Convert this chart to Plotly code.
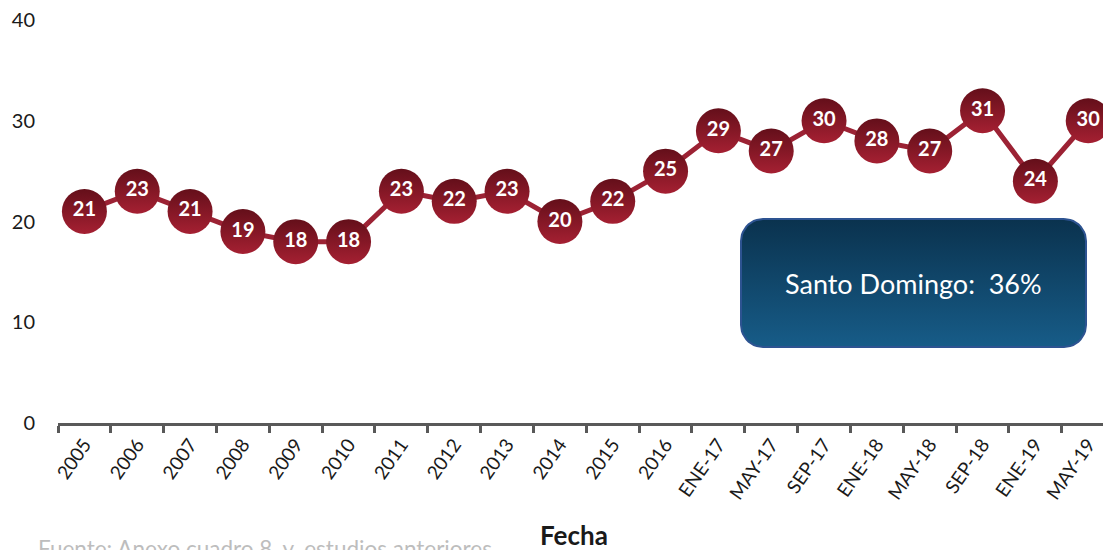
import numpy as np
import plotly.graph_objects as go

categories = ["2005", "2006", "2007", "2008", "2009", "2010", "2011", "2012", "2013",
              "2014", "2015", "2016", "ENE-17", "MAY-17", "SEP-17", "ENE-18", "MAY-18",
              "SEP-18", "ENE-19", "MAY-19"]
values = [21, 23, 21, 19, 18, 18, 23, 22, 23, 20, 22, 25, 29, 27, 30, 28, 27, 31, 24, 30]
y_ticks = [0, 10, 20, 30, 40]
box_text = "Santo Domingo:  36%"
x_title = "Fecha"
source_text = "Fuente: Anexo cuadro 8, y, estudios anteriores"

W, H = 1103, 550
L, R, T, B = 58, 0, 20, 127
PW, PH = W - L - R, H - T - B
FONT = "Lato"


def px2paper_x(p):
    return (p - L) / PW


def px2paper_y(p):
    return (H - B - p) / PH


fig = go.Figure()

fig.add_trace(go.Scatter(
    x=categories, y=values, mode="lines+markers+text",
    line=dict(color="#9c2234", width=5),
    marker=dict(size=45, color="#640f1a",
                gradient=dict(type="vertical", color="#a52032"),
                line=dict(width=0)),
    text=[str(v) for v in values], textposition="middle center",
    textfont=dict(family=FONT, size=20, color="white", weight="bold"),
    cliponaxis=False, showlegend=False, hoverinfo="skip",
))

# rounded box in pixel coordinates (x2/y2 map to pixels)
bx0, bx1, by0, by1, rad = 741, 1086, 219, 347, 22
px, py = [], []
for cx, cy, a0 in [(bx1 - rad, by0 + rad, -90), (bx1 - rad, by1 - rad, 0),
                   (bx0 + rad, by1 - rad, 90), (bx0 + rad, by0 + rad, 180)]:
    ang = np.radians(np.linspace(a0, a0 + 90, 12))
    px += list(cx + rad * np.cos(ang))
    py += list(cy + rad * np.sin(ang))
px.append(px[0]); py.append(py[0])
fig.add_trace(go.Scatter(
    x=px, y=py, xaxis="x2", yaxis="y2", mode="lines", fill="toself",
    line=dict(color="#2d5391", width=2),
    fillgradient=dict(type="vertical", start=by0, stop=by1,
                      colorscale=[[0, "#0a324e"], [1, "#175c88"]]),
    showlegend=False, hoverinfo="skip",
))

fig.update_layout(
    width=W, height=H,
    margin=dict(l=L, r=R, t=T, b=B, autoexpand=False),
    paper_bgcolor="white", plot_bgcolor="rgba(0,0,0,0)",
    font=dict(family=FONT, color="#1a1a1a"),
    xaxis=dict(type="category", range=[-0.5, 19.28], tickson="boundaries",
               showline=True, linecolor="#595959", linewidth=3,
               ticks="outside", ticklen=7, tickwidth=3, tickcolor="#595959",
               tickangle=-55, tickfont=dict(size=19, color="#1a1a1a"),
               showgrid=False, zeroline=False, automargin=False),
    yaxis=dict(range=[0, 40], tickvals=y_ticks, showgrid=False, zeroline=False,
               showline=False, ticks="", tickfont=dict(size=20, color="#1a1a1a"),
               ticklabelstandoff=22, automargin=False),
    xaxis2=dict(overlaying="x", range=[L, W - R], visible=False, fixedrange=True),
    yaxis2=dict(overlaying="y", range=[H - B, T], visible=False, fixedrange=True),
    annotations=[
        dict(text=box_text, xref="x2", yref="y2", x=(bx0 + bx1) / 2, y=(by0 + by1) / 2,
             showarrow=False, font=dict(family=FONT, size=27, color="white")),
        dict(text="<b>" + x_title + "</b>", xref="paper", yref="paper",
             x=px2paper_x(574), y=px2paper_y(535), xanchor="center", yanchor="middle",
             showarrow=False, font=dict(family=FONT, size=26, color="#1a1a1a")),
        dict(text=source_text, xref="paper", yref="paper",
             x=px2paper_x(36), y=px2paper_y(533), xanchor="left",
             yanchor="top", showarrow=False,
             font=dict(family=FONT, size=22.5, color="#bdbdbd")),
    ],
)

fig.write_html("out.html", config={"displayModeBar": False},
               post_script="document.body.style.margin='0';document.body.style.overflow='hidden';")
